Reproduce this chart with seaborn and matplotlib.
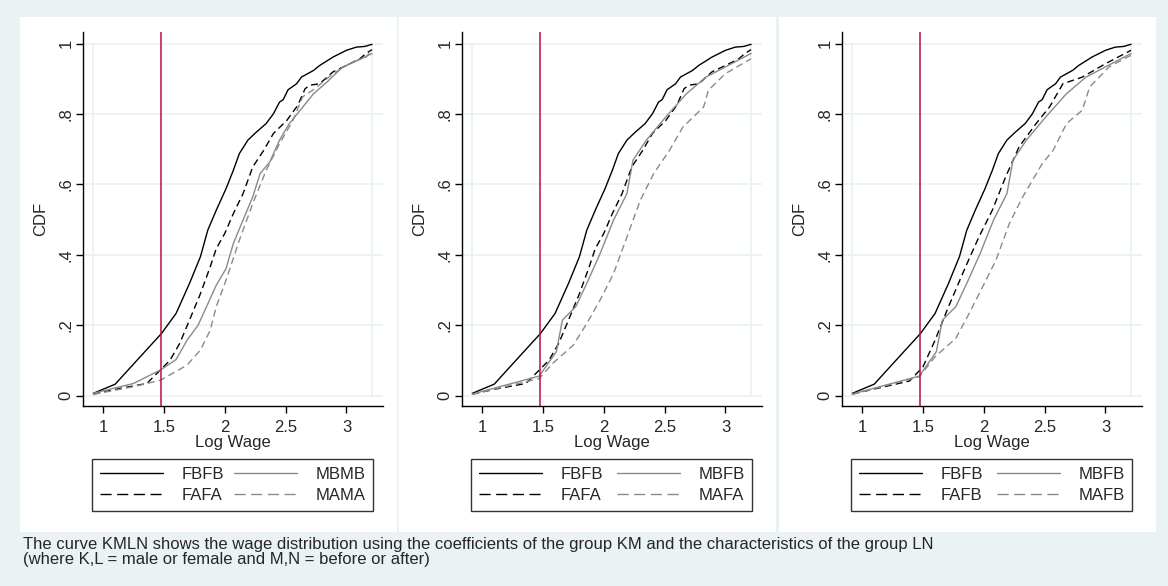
import pandas as pd
import seaborn as sns
import matplotlib.pyplot as plt
from matplotlib.patches import Rectangle

sns.set_style(style='white')
plt.rcParams['font.family'] = ['Liberation Sans', 'DejaVu Sans']
plt.rcParams['font.size'] = 11

# ---- data: CDF of log wage ----
fbfb_x = [0.92, 1.10, 1.25, 1.48, 1.60, 1.71, 1.80, 1.86, 1.93, 2.01, 2.07, 2.12, 2.19, 2.26,
          2.34, 2.40, 2.45, 2.48, 2.52, 2.59, 2.63, 2.73, 2.78, 2.89, 3.00, 3.08, 3.15, 3.21]
fbfb_y = [0.007, 0.033, 0.090, 0.177, 0.234, 0.319, 0.395, 0.470, 0.527, 0.588, 0.640, 0.688, 0.726, 0.749,
          0.773, 0.801, 0.834, 0.841, 0.869, 0.886, 0.905, 0.924, 0.938, 0.962, 0.981, 0.990, 0.992, 0.998]

fafa_x = [0.92, 1.14, 1.36, 1.40, 1.47, 1.55, 1.63, 1.71, 1.80, 1.88, 1.93, 2.00, 2.07, 2.15,
          2.23, 2.32, 2.40, 2.51, 2.60, 2.66, 2.70, 2.78, 2.89, 3.00, 3.11, 3.16, 3.21]
fafa_y = [0.005, 0.021, 0.035, 0.049, 0.073, 0.101, 0.149, 0.215, 0.290, 0.366, 0.418, 0.461, 0.517, 0.574,
          0.650, 0.697, 0.745, 0.782, 0.825, 0.872, 0.882, 0.886, 0.920, 0.938, 0.957, 0.972, 0.983]

mbmb_x = [0.92, 1.25, 1.47, 1.60, 1.69, 1.78, 1.85, 1.93, 2.01, 2.07, 2.15, 2.23, 2.29, 2.37,
          2.45, 2.53, 2.62, 2.73, 2.84, 2.97, 3.11, 3.21]
mbmb_y = [0.007, 0.035, 0.073, 0.103, 0.158, 0.200, 0.253, 0.314, 0.361, 0.432, 0.499, 0.565, 0.631, 0.664,
          0.726, 0.773, 0.811, 0.858, 0.891, 0.934, 0.955, 0.972]

mama_x = [0.92, 1.25, 1.47, 1.69, 1.80, 1.88, 1.93, 2.01, 2.12, 2.23, 2.34, 2.45, 2.56, 2.64,
          2.74, 2.89, 3.05, 3.16, 3.21]
mama_y = [0.004, 0.026, 0.044, 0.087, 0.130, 0.186, 0.253, 0.328, 0.442, 0.546, 0.640, 0.716, 0.782, 0.849,
          0.872, 0.915, 0.948, 0.962, 0.981]

mbfb_x = [0.92, 1.47, 1.61, 1.66, 1.77, 1.86, 1.97, 2.08, 2.19, 2.24, 2.35, 2.51, 2.68, 2.84, 3.00, 3.21]
mbfb_y = [0.005, 0.056, 0.125, 0.215, 0.253, 0.319, 0.404, 0.499, 0.574, 0.669, 0.726, 0.792, 0.858, 0.905, 0.934, 0.972]

mafa_x = [0.92, 1.47, 1.58, 1.75, 1.86, 1.97, 2.08, 2.19, 2.30, 2.41, 2.54, 2.65, 2.82, 2.86, 3.00, 3.21]
mafa_y = [0.004, 0.049, 0.092, 0.144, 0.205, 0.272, 0.347, 0.451, 0.555, 0.631, 0.697, 0.763, 0.820, 0.868, 0.915, 0.957]

fafb_x = [0.92, 1.39, 1.50, 1.60, 1.71, 1.85, 1.96, 2.07, 2.18, 2.29, 2.43, 2.54, 2.65, 2.81, 3.00, 3.21]
fafb_y = [0.005, 0.042, 0.082, 0.158, 0.253, 0.366, 0.451, 0.527, 0.622, 0.707, 0.773, 0.820, 0.886, 0.905, 0.943, 0.981]

mafb_x = [0.92, 1.47, 1.60, 1.77, 1.88, 1.99, 2.10, 2.21, 2.32, 2.48, 2.57, 2.68, 2.81, 2.87, 3.03, 3.21]
mafb_y = [0.004, 0.054, 0.111, 0.163, 0.234, 0.309, 0.385, 0.489, 0.565, 0.659, 0.697, 0.773, 0.811, 0.877, 0.934, 0.967]

cutoff = 1.48
x_ticks = [1, 1.5, 2, 2.5, 3]
x_tick_labels = ['1', '1.5', '2', '2.5', '3']
y_ticks = [0, 0.2, 0.4, 0.6, 0.8, 1]
y_tick_labels = ['0', '.2', '.4', '.6', '.8', '1']

curves = {'FBFB': (fbfb_x, fbfb_y), 'FAFA': (fafa_x, fafa_y),
          'MBMB': (mbmb_x, mbmb_y), 'MAMA': (mama_x, mama_y),
          'MBFB': (mbfb_x, mbfb_y), 'MAFA': (mafa_x, mafa_y),
          'FAFB': (fafb_x, fafb_y), 'MAFB': (mafb_x, mafb_y)}

# legend order (column-wise): black solid, black dash, gray solid, gray dash
panels = [['FBFB', 'FAFA', 'MBMB', 'MAMA'],
          ['FBFB', 'FAFA', 'MBFB', 'MAFA'],
          ['FBFB', 'FAFB', 'MBFB', 'MAFB']]
styles = [('black', '-'), ('black', (0, (5, 3))), ('#8a8a8a', '-'), ('#8a8a8a', (0, (5, 3)))]

BG = '#eaf2f3'
FS = 12
fig = plt.figure(figsize=(11.68, 5.86), dpi=100, facecolor=BG)

panel_left = [20, 399, 779]
for ix, names in enumerate(panels):
    # white graph region behind each panel
    fig.patches.append(Rectangle((panel_left[ix] / 1168, 54 / 586), 377 / 1168, 515 / 586,
                                 transform=fig.transFigure, facecolor='white', edgecolor='none', zorder=-5))
    ax = fig.add_axes([(panel_left[ix] + 63) / 1168, 180 / 586, 300 / 1168, 374 / 586])
    ax.set_facecolor('white')
    ax.set_xlim(0.835, 3.30)
    ax.set_ylim(-0.029, 1.033)
    for y in y_ticks:
        ax.axhline(y, color=BG, lw=1.3, zorder=0)
    all_x = [v for n in names for v in curves[n][0]]
    ax.vlines([min(all_x), max(all_x)], 0, 1, color=BG, lw=1.3, zorder=0)

    for name, (color, ls) in zip(names, styles):
        df = pd.DataFrame({'x': curves[name][0], 'y': curves[name][1]})
        sns.lineplot(data=df, x='x', y='y', ax=ax, color=color, linestyle=ls,
                     lw=1.0, label=name, sort=False, zorder=3)
    ax.axvline(cutoff, color='#b8103a', lw=1.1, zorder=4)

    sns.despine(ax=ax, left=False, bottom=False, right=True, top=True)
    for s in ['left', 'bottom']:
        ax.spines[s].set_color('black')
        ax.spines[s].set_linewidth(1.0)
    ax.set_xticks(x_ticks)
    ax.set_xticklabels(x_tick_labels, fontsize=FS)
    ax.set_yticks(y_ticks)
    ax.set_yticklabels(y_tick_labels, fontsize=FS, rotation=90, va='center')
    ax.tick_params(axis='x', direction='out', length=5, width=1, color='black', pad=5, bottom=True)
    ax.tick_params(axis='y', direction='out', length=5, width=1, color='black', pad=2, left=True)
    ax.set_xlabel('Log Wage', fontsize=FS, labelpad=0)
    ax.set_ylabel('CDF', fontsize=FS, labelpad=7)

    leg = ax.legend(loc='upper left', bbox_to_anchor=(0.03, -0.286, 0.937, 0.144),
                    mode='expand', ncol=2, frameon=True, fancybox=False, fontsize=FS,
                    handlelength=3.8, handletextpad=1.1, columnspacing=2.0,
                    labelspacing=0.4, borderaxespad=0, borderpad=0.45)
    leg.get_frame().set_edgecolor('black')
    leg.get_frame().set_linewidth(1.0)
    for line, (color, ls) in zip(leg.get_lines(), styles):
        if ls != '-':
            line.set_dashes((8, 4))

fig.text(23 / 1168, 1 - 537 / 586,
         'The curve KMLN shows the wage distribution using the coefficients of the group KM '
         'and the characteristics of the group LN\n(where K,L = male or female and M,N = before or after)',
         fontsize=FS, va='top', ha='left', linespacing=1.0)

fig.savefig('out.png', dpi=100, facecolor=BG)
